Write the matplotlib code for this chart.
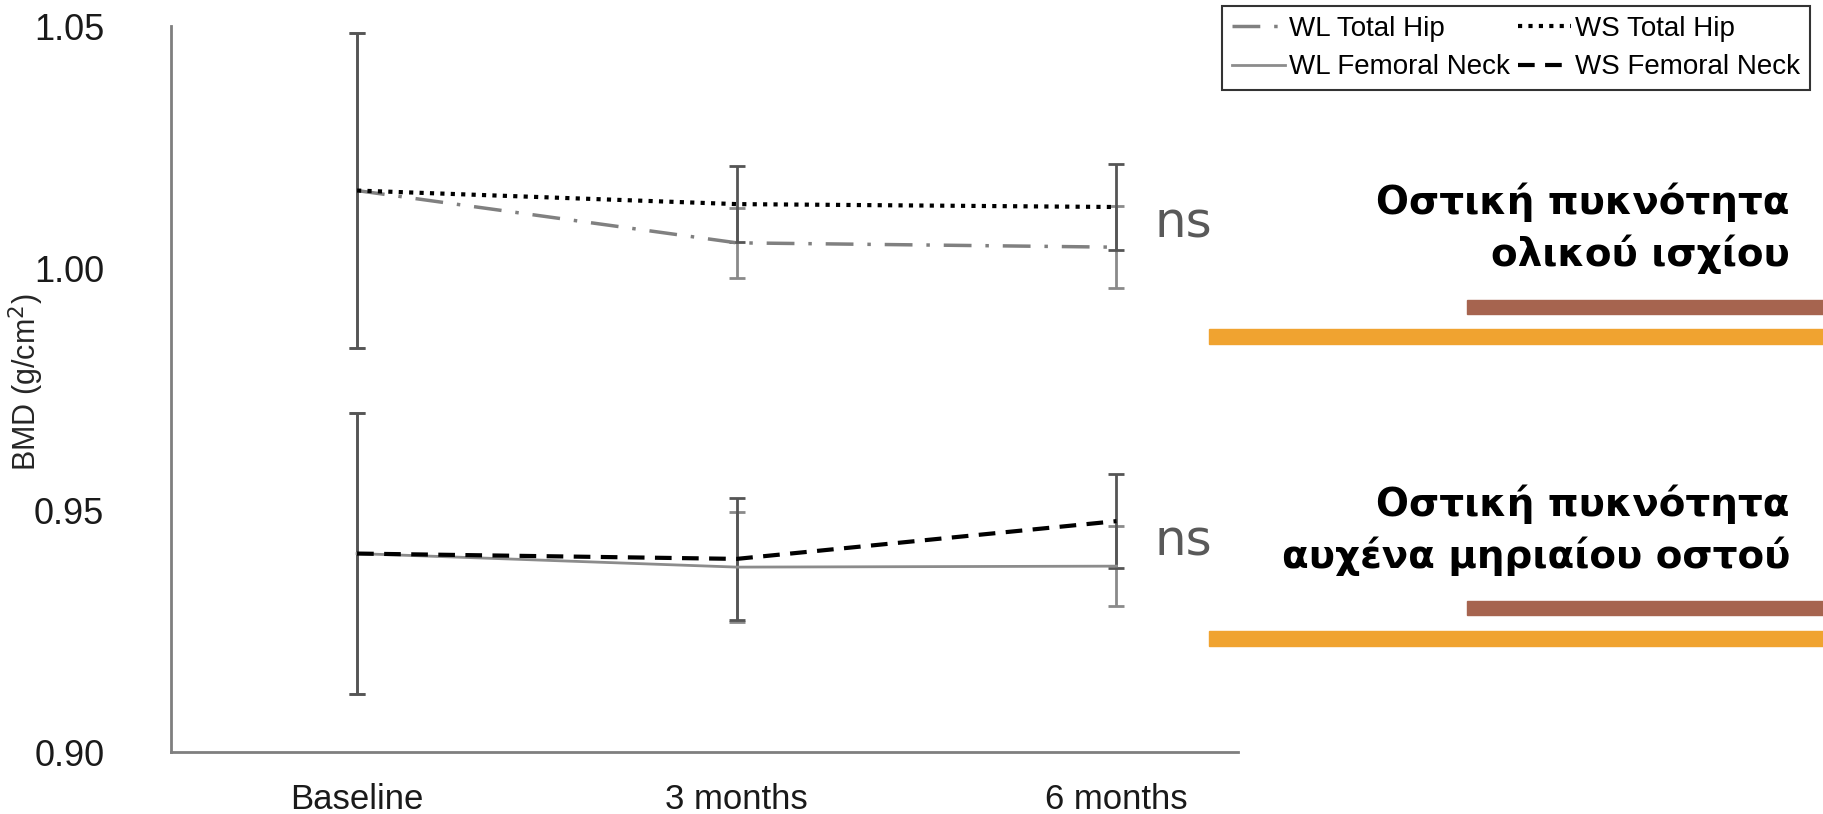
import matplotlib
matplotlib.use("Agg")
import matplotlib.pyplot as plt
from matplotlib.patches import Rectangle
import numpy as np

# BMD means and SDs
timepoints = ['Baseline', '3 months', '6 months']
wl_hip = [1.016, 1.0052, 1.0043]
wl_hip_sd = [0.0325, 0.0072, 0.0085]
ws_hip = [1.016, 1.0132, 1.0126]
ws_hip_sd = [0.0325, 0.0079, 0.0089]
wl_neck = [0.941, 0.9382, 0.9384]
wl_neck_sd = [0.029, 0.0114, 0.0083]
ws_neck = [0.941, 0.9399, 0.9477]
ws_neck_sd = [0.029, 0.0126, 0.0097]

yticks = [0.90, 0.95, 1.00, 1.05]
titles = ['Οστική πυκνότητα\nολικού ισχίου', 'Οστική πυκνότητα\nαυχένα μηριαίου οστού']

plt.rcParams['font.family'] = ['Liberation Sans', 'DejaVu Sans']

W, H = 1823, 814
fig = plt.figure(figsize=(W / 100, H / 100), dpi=100)
ax = fig.add_axes([171 / W, 1 - 752 / H, (1238 - 171) / W, (752 - 26) / H])

x = np.arange(len(timepoints))

# error bars first, lines over them
ax.errorbar(x, wl_hip, yerr=wl_hip_sd, fmt='none', ecolor='#8a8a8a', elinewidth=2, capsize=6, capthick=2)
ax.errorbar(x, ws_hip, yerr=ws_hip_sd, fmt='none', ecolor='#555555', elinewidth=2, capsize=6, capthick=2)
ax.errorbar(x, wl_neck, yerr=wl_neck_sd, fmt='none', ecolor='#8a8a8a', elinewidth=2, capsize=6, capthick=2)
ax.errorbar(x, ws_neck, yerr=ws_neck_sd, fmt='none', ecolor='#555555', elinewidth=2, capsize=6, capthick=2)

l1, = ax.plot(x, wl_hip, color='#808080', lw=2.5, linestyle=(0, (8, 4, 1, 4)), label='WL Total Hip')
l2, = ax.plot(x, ws_hip, color='black', lw=3, linestyle=(0, (1, 1.5)), label='WS Total Hip')
l3, = ax.plot(x, wl_neck, color='#8c8c8c', lw=2, linestyle='-', label='WL Femoral Neck')
l4, = ax.plot(x, ws_neck, color='black', lw=3, linestyle=(0, (4, 2.5)), label='WS Femoral Neck')

ax.set_xlim(-0.49, 2.32)
ax.set_ylim(0.90, 1.05)
ax.set_yticks(yticks)
ax.set_yticklabels([f'{v:.2f}' for v in yticks])
ax.set_xticks(x)
ax.set_xticklabels(timepoints)
ax.tick_params(axis='y', length=0, pad=48, labelsize=26, colors='#1a1a1a')
ax.tick_params(axis='x', length=0, pad=22, labelsize=25, colors='#1a1a1a')

for s in ['top', 'right']:
    ax.spines[s].set_visible(False)
for s in ['left', 'bottom']:
    ax.spines[s].set_color('#7f7f7f')
    ax.spines[s].set_linewidth(2)

ax.set_ylabel('BMD (g/cm$^2$)', fontsize=22, color='#262626')
ax.yaxis.set_label_coords(-0.117, 0.51)

leg = fig.legend(handles=[l1, l3, l2, l4], ncol=2, loc='upper right',
                 bbox_to_anchor=(1810 / W, 1 - 6 / H), fontsize=20,
                 frameon=True, fancybox=False, edgecolor='black',
                 handlelength=1.9, handletextpad=0.15, columnspacing=0.3,
                 labelspacing=0.45, borderpad=0.35, borderaxespad=0)
leg.get_frame().set_linewidth(1.5)

# "ns" labels next to 6 months
fig.text(1183 / W, 1 - 223 / H, 'ns', fontsize=36, color='#595959',
         ha='center', va='center', family='DejaVu Sans')
fig.text(1183 / W, 1 - 541 / H, 'ns', fontsize=36, color='#595959',
         ha='center', va='center', family='DejaVu Sans')

# slide titles with coloured bars
title_y = [228, 530]
brown_y = [300, 601]
orange_y = [329, 631]
for t, ty, by, oy in zip(titles, title_y, brown_y, orange_y):
    fig.text(1790 / W, 1 - ty / H, t, fontsize=28, fontweight='bold',
             family='DejaVu Sans', ha='right', va='center',
             linespacing=1.4)
    fig.patches.append(Rectangle((1467 / W, 1 - (by + 14) / H), (1823 - 1467) / W, 14 / H,
                                 transform=fig.transFigure, color='#a6644f'))
    fig.patches.append(Rectangle((1209 / W, 1 - (oy + 15) / H), (1823 - 1209) / W, 15 / H,
                                 transform=fig.transFigure, color='#f0a330'))

fig.savefig('out.png', dpi=100)
